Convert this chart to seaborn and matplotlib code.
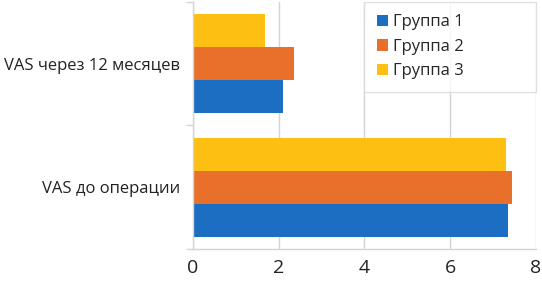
import pandas as pd
import matplotlib
matplotlib.use("Agg")
import matplotlib.pyplot as plt
import seaborn as sns

# values
categories = ["VAS через 12 месяцев", "VAS до операции"]
groups = ["Группа 1", "Группа 2", "Группа 3"]
group1 = [2.11, 7.35]
group2 = [2.36, 7.45]
group3 = [1.68, 7.30]
colors = {"Группа 1": "#1b6ec2", "Группа 2": "#e8702a", "Группа 3": "#fcbf12"}

df = pd.DataFrame({
    "category": categories * 3,
    "group": [g for g in groups for _ in categories],
    "value": group1 + group2 + group3,
})

sns.set_theme(style="white")
plt.rcParams['font.family'] = ['Open Sans', 'DejaVu Sans']

fig = plt.figure(figsize=(5.42, 2.81), dpi=100)
ax = fig.add_axes([0.356, 0.114, 0.633, 0.879])

# reversed hue order so that Группа 1 sits at the bottom of each block
sns.barplot(data=df, x="value", y="category", hue="group", order=categories,
            hue_order=groups[::-1], palette=colors, orient="h", width=0.8,
            saturation=1, linewidth=0, edgecolor="none", ax=ax)

ax.set_xlim(0, 8)
ax.set_xticks([0, 2, 4, 6, 8])
ax.set_ylim(1.5, -0.5)
ax.set_yticks([-0.5, 0.5, 1.5], minor=True)
ax.xaxis.grid(True, color="#d4d4d4", linewidth=1)
ax.set_axisbelow(True)
ax.set_xlabel("")
ax.set_ylabel("")
for s in ["top", "right"]:
    ax.spines[s].set_visible(False)
for s in ["left", "bottom"]:
    ax.spines[s].set_color("#d4d4d4")
    ax.spines[s].set_linewidth(1)
ax.tick_params(axis="x", which="major", length=4, color="#d4d4d4", labelsize=14, pad=3, labelcolor="#222222")
ax.tick_params(axis="y", which="major", length=0, labelsize=12, pad=9, labelcolor="#222222")
ax.tick_params(axis="y", which="minor", length=5, color="#d4d4d4", left=True)

handles, labels = ax.get_legend_handles_labels()
handles, labels = handles[::-1], labels[::-1]
leg = ax.legend(handles, labels, loc="upper left", bbox_to_anchor=(0.5, 0.6, 0.5, 0.4),
                mode="expand", fontsize=12, frameon=True, fancybox=False,
                edgecolor="#d9d9d9", handlelength=0.65, handleheight=0.65,
                handletextpad=0.3, labelspacing=0.5, borderpad=0.75, borderaxespad=0)
leg.get_frame().set_linewidth(1)

fig.savefig("out.png", dpi=100)
